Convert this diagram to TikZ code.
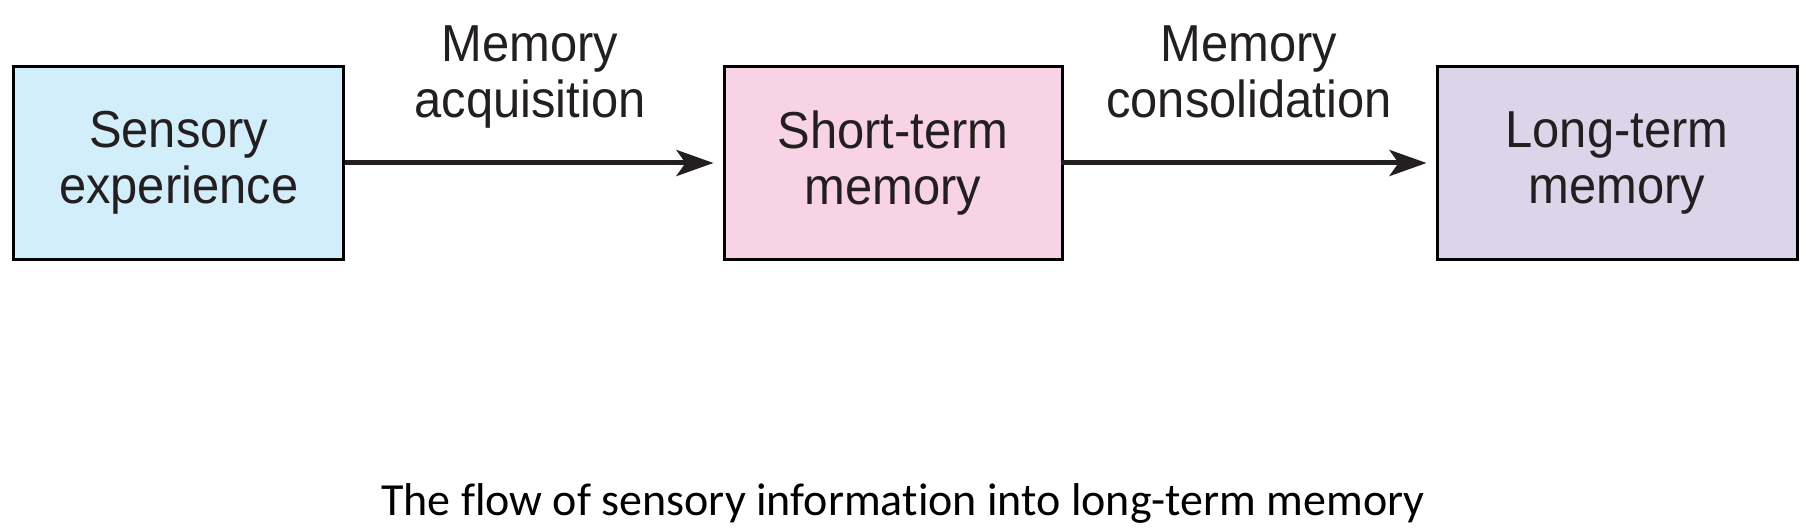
\documentclass[tikz,border=0pt]{standalone}
\usepackage{fontspec}
\setmainfont{Liberation Sans}
\newfontfamily\boxfont[FakeStretch=0.94]{Liberation Sans}
\newfontfamily\capfont[Ligatures=NoCommon]{Carlito}
\usetikzlibrary{arrows.meta}
\definecolor{txt}{HTML}{231F20}
\definecolor{cblue}{RGB}{210,238,250}
\definecolor{cpink}{RGB}{248,211,229}
\definecolor{clav}{RGB}{220,212,233}
\tikzset{
  membox/.style={draw=black, line width=3pt, minimum height=192pt, inner sep=0pt,
    text=txt, align=center, font=\boxfont\fontsize{52}{56}\selectfont},
  memlabel/.style={text=txt, align=center, inner sep=0pt, font=\boxfont\fontsize{52}{56}\selectfont},
  flow/.style={line width=5pt, draw=txt, -{Stealth[length=37pt,width=26pt,inset=9pt]}, shorten >=9pt}
}
\begin{document}
\begin{tikzpicture}[x=1pt,y=-1pt]
\useasboundingbox (0,0) rectangle (1808,532);
\node[membox, fill=cblue, minimum width=330pt] (se) at (178.7,163) {Sensory\\experience};
\node[membox, fill=cpink, minimum width=338pt] (st) at (893,163) {Short-term\\memory};
\node[membox, fill=clav, minimum width=360pt] (lt) at (1617,163) {Long-term\\memory};
\draw[flow] (se.east) -- (st.west);
\draw[flow] ([xshift=-3pt]st.east) -- (lt.west);
\node[memlabel] (l1) at (530,77.5) {Memory\\acquisition};
\node[memlabel] (l2) at (1249,77.5) {Memory\\consolidation\vphantom{q}};
\node[inner sep=0pt, font=\capfont\fontsize{46}{48}\selectfont] (cap) at (903,503) {The flow of sensory information into long-term memory};
\end{tikzpicture}
\end{document}
